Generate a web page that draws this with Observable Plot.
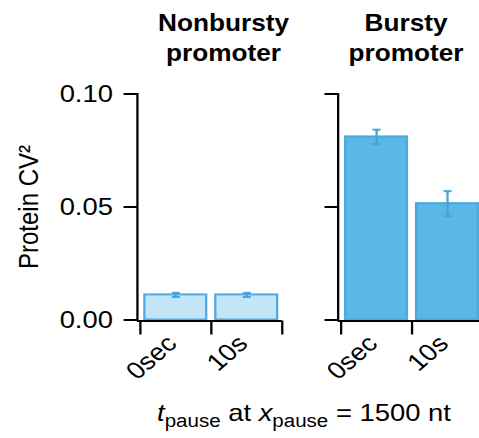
<!DOCTYPE html>
<html>
<head>
<meta charset="utf-8">
<script src="https://cdn.jsdelivr.net/npm/d3@7"></script>
<script src="https://cdn.jsdelivr.net/npm/@observablehq/plot@0.6"></script>
<style>
  html, body { margin: 0; padding: 0; background: #fff; overflow: hidden; }
  #wrap { position: relative; width: 420px; height: 438px; transform: scaleX(1.1405); transform-origin: 0 0;
          font-family: "Liberation Sans", Arial, Helvetica, sans-serif; color: #000; }
  #caption { position: absolute; left: 119px; width: 295px; top: 399px; text-align: center;
             font-size: 24px; line-height: 28px; white-space: nowrap; }
  #caption sub { font-size: 75%; vertical-align: -0.32em; line-height: 0; }
</style>
</head>
<body>
<div id="wrap"><div id="chart"></div><div id="caption"><i>t</i><sub>pause</sub> at <i>x</i><sub>pause</sub> = 1500 nt</div></div>
<script>
// ---- data ----
const promoters = ["Nonbursty\npromoter", "Bursty\npromoter"];
const pauses = ["0sec", "10s"];
const cvNonbursty = [0.0111, 0.0111];
const errNonbursty = [0.0009, 0.0009];
const cvBursty = [0.0810, 0.0515];
const errBursty = [0.0032, 0.0055];
const yTicks = [0, 0.05, 0.10];
const barFills = ["#c4e5f8", "#5ab8e8"];
const barStrokes = ["#4eaae0", "#4aa9dd"];
const errColor = "#45a4da";
const titleShift = [12, -4];

const rows = [];
[cvNonbursty, cvBursty].forEach((vals, p) => {
  vals.forEach((v, i) => {
    const e = (p === 0 ? errNonbursty : errBursty)[i];
    rows.push({promoter: promoters[p], p, pause: pauses[i], i0: i, i1: i + 1, mid: i + 0.5,
               cv: v, lo: v - e, hi: v + e});
  });
});

const capSymbol = {
  draw(context, size) {
    const r = Math.sqrt(size / Math.PI);
    context.moveTo(-r, 0);
    context.lineTo(r, 0);
  }
};

const titleMarks = promoters.map((name, k) =>
  Plot.text([name], {fx: d => d, text: d => d, frameAnchor: "top", lineAnchor: "top",
    dy: -84, dx: titleShift[k], fontWeight: "bold", fontSize: 23, lineHeight: 1.3}));

const chart = Plot.plot({
  width: 420,
  height: 390,
  marginLeft: 119.2,
  marginRight: -2.8,
  marginTop: 93.5,
  marginBottom: 70.5,
  style: {fontFamily: '"Liberation Sans", Arial, Helvetica, sans-serif', fontSize: "24px", color: "#000", background: "transparent", overflow: "visible"},
  fx: {domain: promoters, paddingInner: 0.2785, paddingOuter: 0, axis: null},
  x: {domain: [0, pauses.length], insetLeft: 2.6, label: null},
  y: {domain: [0, 0.1], label: null},
  marks: [
    Plot.rectY(rows, {fx: "promoter", x1: "i0", x2: "i1", y: "cv",
      fill: d => barFills[d.p], stroke: d => barStrokes[d.p], strokeWidth: 2,
      insetLeft: 4, insetRight: 4}),
    Plot.ruleX(rows, {fx: "promoter", x: "mid", y1: "lo", y2: "hi", stroke: errColor, strokeWidth: 2}),
    Plot.dot(rows, {fx: "promoter", x: "mid", y: "hi", symbol: capSymbol, r: 3.5, stroke: errColor, strokeWidth: 2, fill: "none"}),
    Plot.dot(rows, {fx: "promoter", x: "mid", y: "lo", symbol: capSymbol, r: 3.5, stroke: errColor, strokeWidth: 2, fill: "none"}),
    Plot.frame({anchor: "left", stroke: "#000", strokeWidth: 2}),
    Plot.ruleY([0], {stroke: "#000", strokeWidth: 2, dy: 1}),
    Plot.axisY({ticks: yTicks, tickFormat: () => "", tickSize: 11.5, strokeWidth: 2, label: null, facetAnchor: null}),
    Plot.axisY({ticks: yTicks, tickFormat: ".2f", tickSize: 11.5, tickPadding: 10, strokeWidth: 2, fontSize: 24,
      label: "Protein CV²", labelAnchor: "center", labelOffset: 104, labelArrow: "none", facetAnchor: "left"}),
    Plot.axisX({ticks: d3.range(pauses.length + 1), tickFormat: () => "", tickSize: 14, strokeWidth: 2, label: null, dy: 1}),
    Plot.text(rows, {fx: "promoter", x: "mid", text: "pause", frameAnchor: "bottom",
      rotate: -45, textAnchor: "end", dx: 2, dy: 25, fontSize: 24}),
    ...titleMarks
  ]
});
document.getElementById("chart").appendChild(chart);
</script>
</body>
</html>
